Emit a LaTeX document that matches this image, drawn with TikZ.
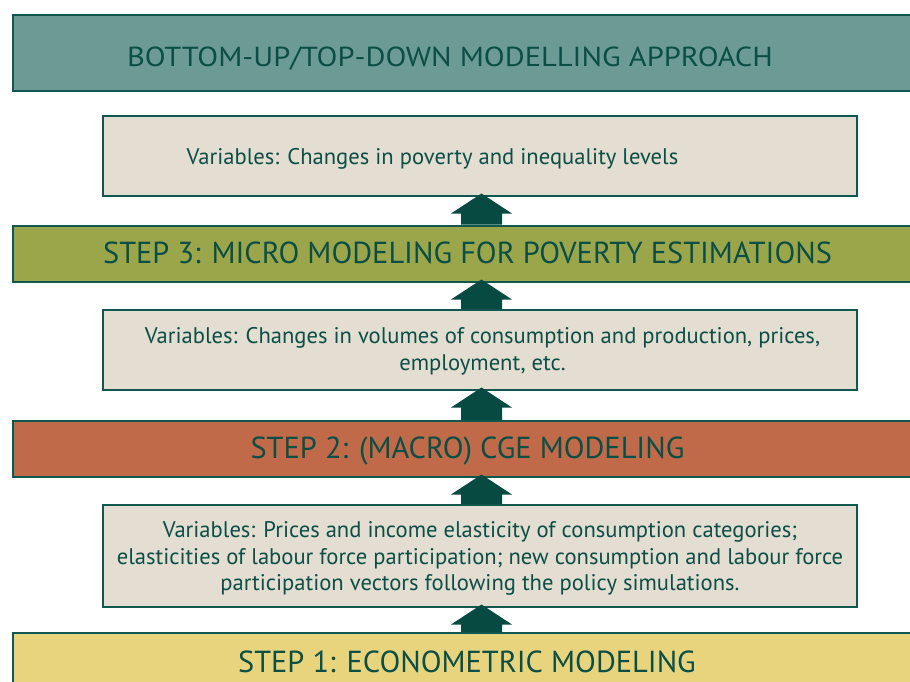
\documentclass[tikz,border=0pt]{standalone}
\usepackage{fontspec}
\setmainfont{PT Sans}
\usetikzlibrary{calc}
\definecolor{ink}{HTML}{0B4E46}
\definecolor{edge}{HTML}{0E5850}
\definecolor{arrowfill}{HTML}{074A41}
\definecolor{titlefill}{HTML}{6C9B96}
\definecolor{stepthree}{HTML}{9BA64B}
\definecolor{steptwo}{HTML}{C06A4A}
\definecolor{stepone}{HTML}{E8D47D}
\definecolor{varfill}{HTML}{E3DDD2}
\tikzset{
  band/.style={draw=edge, line width=2pt, rectangle, inner sep=0pt, minimum width=912pt},
  varbox/.style={draw=edge, line width=2pt, fill=varfill, rectangle, inner sep=0pt, minimum width=754pt},
  bandtext/.style={text=ink, inner sep=0pt, anchor=base, font=\fontsize{30.4}{32}\selectfont},
  vartext/.style={text=ink, inner sep=0pt, anchor=base, align=center,
    font=\fontsize{22.6}{26.7}\selectfont},
}
% block arrow pointing from the lower box up into the upper box
\newcommand\blockarrow[2]{%
  \fill[arrowfill] let \p1=(#1.north -| ax), \p2=(#2.south -| ax) in
    (\x1-20.5pt,\y1) -- (\x1-20.5pt,\y2-16.5pt) -- (\x1-30.5pt,\y2-16.5pt)
    -- (\x1,\y2+3.5pt) -- (\x1+30.5pt,\y2-16.5pt) -- (\x1+20.5pt,\y2-16.5pt)
    -- (\x1+20.5pt,\y1) -- cycle;}
\begin{document}
\begin{tikzpicture}[x=1pt,y=-1pt]
\useasboundingbox (0,0) rectangle (910,681);
\coordinate (ax) at (481.5,0);

% boxes
\node[band, fill=titlefill, minimum height=76pt] (title) at (469,53) {};
\node[varbox, minimum height=80pt] (var1) at (480,156) {};
\node[band, fill=stepthree, minimum height=56.5pt] (step3) at (469,253.75) {};
\node[varbox, minimum height=80pt] (var2) at (480,350) {};
\node[band, fill=steptwo, minimum height=56pt] (step2) at (469,449) {};
\node[varbox, minimum height=102pt] (var3) at (480,556) {};
\node[band, fill=stepone, minimum height=67pt] (step1) at (469,666.5) {};

% arrows
\blockarrow{step1}{var3}
\blockarrow{var3}{step2}
\blockarrow{step2}{var2}
\blockarrow{var2}{step3}
\blockarrow{step3}{var1}

% texts (multi-line nodes sit on the baseline of their last line)
\node[bandtext, font=\fontsize{27.5}{30}\selectfont] (titlelbl) at (450,66)
  {\scalebox{1.11}[1]{BOTTOM-UP/TOP-DOWN MODELLING APPROACH}};
\node[vartext] (var1lbl) at (432.5,164)
  {Variables: Changes in poverty and inequality levels};
\node[bandtext] (step3lbl) at (467.5,263.3)
  {STEP 3: MICRO MODELING FOR POVERTY ESTIMATIONS};
\node[vartext] (var2lbl) at (482.5,370.5)
  {Variables: Changes in volumes of consumption and production, prices,\\
   employment, etc.};
\node[bandtext] (step2lbl) at (467.5,458.5)
  {STEP 2: (MACRO) CGE MODELING};
\node[vartext] (var3lbl) at (480,590.7)
  {Variables: Prices and income elasticity of consumption categories;\\
   elasticities of labour force participation; new consumption and labour force\\
   participation vectors following the policy simulations.};
\node[bandtext] (step1lbl) at (467,672)
  {STEP 1: ECONOMETRIC MODELING};
\end{tikzpicture}
\end{document}
